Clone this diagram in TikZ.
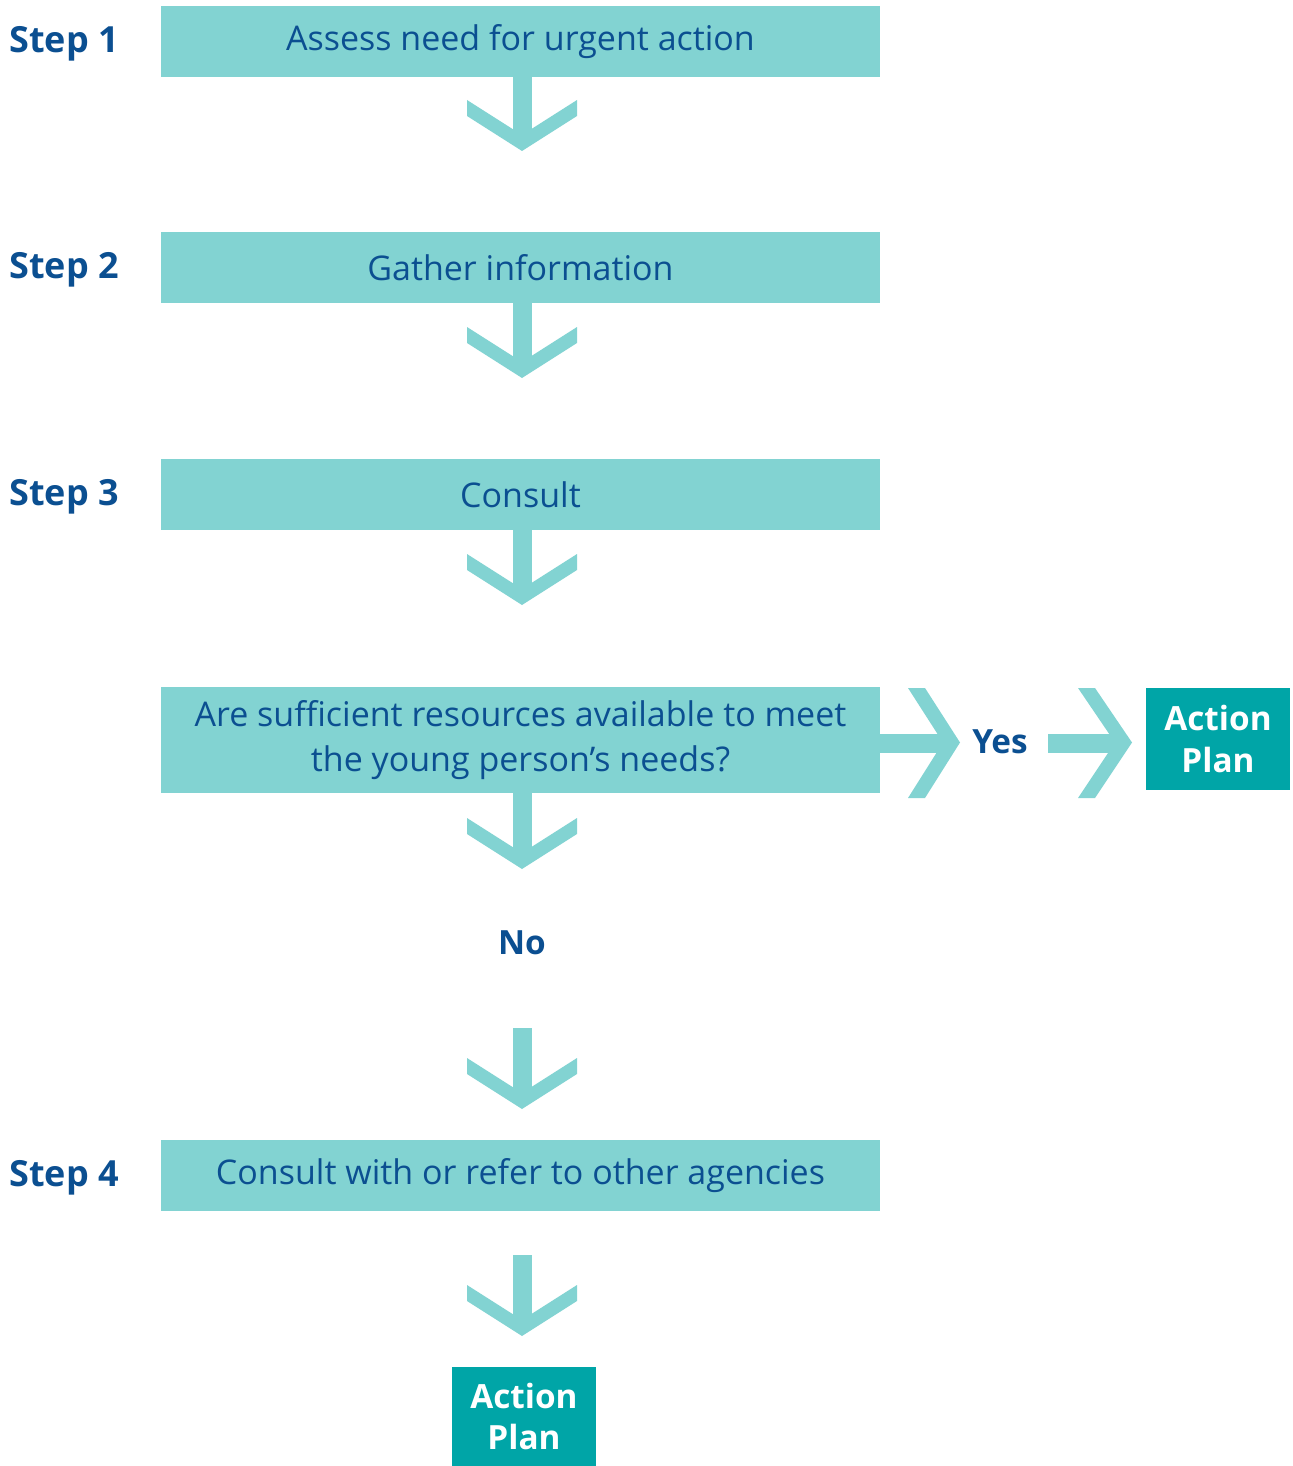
\documentclass[tikz,border=0pt]{standalone}
\usepackage{fontspec}
\setmainfont{Open Sans}
\definecolor{lteal}{HTML}{82D3D2}
\definecolor{dteal}{HTML}{00A5A7}
\definecolor{navy}{HTML}{0B4F91}
\tikzset{
  x=0.75pt, y=-0.75pt,
  box/.style={fill=lteal, draw=none, minimum width=719*0.75pt, text=navy, font=\fontsize{25.5}{34}\selectfont, align=center, inner sep=0pt},
  steplabel/.style={anchor=west, text=navy, font=\fontsize{27}{30}\selectfont\bfseries, inner sep=0pt},
  actionbox/.style={fill=dteal, draw=none, minimum width=144*0.75pt, text=white, font=\fontsize{25}{31}\selectfont\bfseries, align=center, inner sep=0pt},
  answer/.style={text=navy, font=\fontsize{25}{30}\selectfont\bfseries, inner sep=0pt},
  arrowfill/.style={fill=lteal, draw=none},
}
% down arrow: #1 = stem top y, #2 = chevron top y
\newcommand{\downarr}[2]{%
  \fill[arrowfill] (513,#1) rectangle (532,#2+40);
  \fill[arrowfill] (467,#2) -- (522,#2+35) -- (577,#2) -- (577,#2+16) -- (522,#2+51) -- (467,#2+16) -- cycle;
}
% right arrow: #1 = stem left x, #2 = stem right x, #3 = chevron left x, #4 = tip x
\newcommand{\rightarr}[4]{%
  \fill[arrowfill] (#1,733.5) rectangle (#2,752.5);
  \fill[arrowfill] (#3,688) -- (#3+17,688) -- (#4,742.5) -- (#3+17,798) -- (#3,798) -- (#4-17,742.5) -- cycle;
}
\begin{document}
\begin{tikzpicture}
\useasboundingbox (0,0) rectangle (1292,1466);
% boxes
\node[box, minimum height=71*0.75pt] (b1) at (520.5,41.5) {Assess need for urgent action};
\node[box, minimum height=71*0.75pt] (b2) at (520.5,267.5) {Gather information};
\node[box, minimum height=71*0.75pt] (b3) at (520.5,494.5) {Consult};
\node[box, minimum height=106*0.75pt] (b4) at (520.5,740) {Are sufficient resources available to meet\\the young person’s needs?};
\node[box, minimum height=71*0.75pt] (b5) at (520.5,1175.5) {Consult with or refer to other agencies};
% step labels
\node[steplabel] (s1) at (9,44) {Step 1};
\node[steplabel] (s2) at (9,270) {Step 2};
\node[steplabel] (s3) at (9,497) {Step 3};
\node[steplabel] (s4) at (9,1178) {Step 4};
% action plans
\node[actionbox, minimum height=102*0.75pt] (ap1) at (1218,739) {\raisebox{-2pt}{Action}\\\raisebox{-2pt}{Plan}};
\node[actionbox, minimum height=99*0.75pt] (ap2) at (524,1416.5) {\raisebox{-2pt}{Action}\\\raisebox{-2pt}{Plan}};
% answers
\node[answer] (yes) at (1000,742) {Yes};
\node[answer] (no) at (522,943) {No};
% down arrows
\downarr{77}{100}
\downarr{303}{327}
\downarr{530}{554}
\downarr{793}{818}
\downarr{1028}{1058}
\downarr{1255}{1285}
% right arrows
\rightarr{880}{946}{908}{960}
\rightarr{1048}{1118}{1078}{1132}
\end{tikzpicture}
\end{document}
